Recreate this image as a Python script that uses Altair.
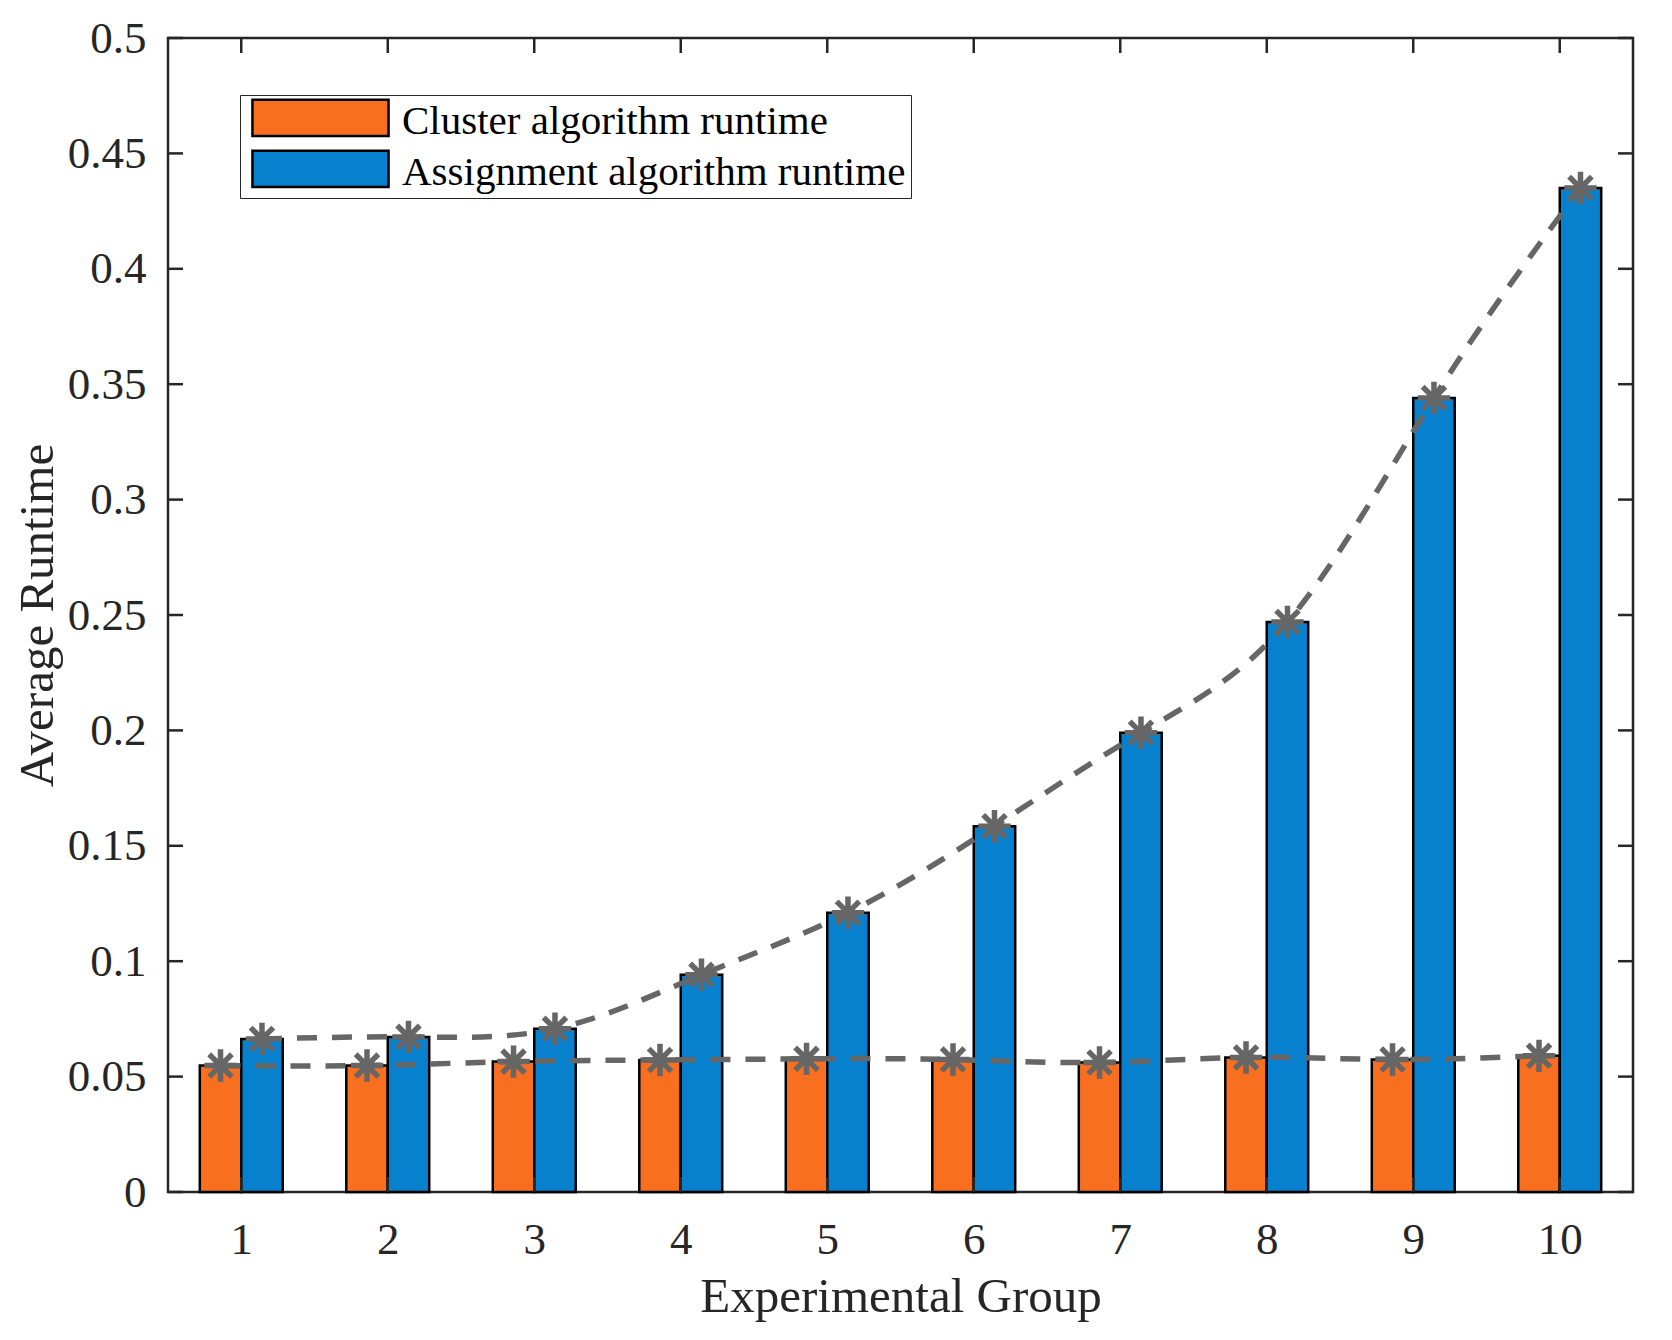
import altair as alt
import pandas as pd

groups = [1, 2, 3, 4, 5, 6, 7, 8, 9, 10]
cluster_runtime = [0.0548, 0.0548, 0.0565, 0.0572, 0.0577, 0.0574, 0.0561, 0.0583, 0.0574, 0.0590]
assign_runtime = [0.0663, 0.0672, 0.0707, 0.0941, 0.1210, 0.1585, 0.1990, 0.2470, 0.3440, 0.4350]
series_names = ["Cluster algorithm runtime", "Assignment algorithm runtime"]
series_colors = ["#F8701F", "#0780CE"]
y_ticks = [0, 0.05, 0.1, 0.15, 0.2, 0.25, 0.3, 0.35, 0.4, 0.45, 0.5]

df = pd.DataFrame({
    "group": groups * 2,
    "runtime": cluster_runtime + assign_runtime,
    "series": [series_names[0]] * 10 + [series_names[1]] * 10,
    "side": [0] * 10 + [1] * 10,
})
ytick_df = pd.DataFrame({"v": y_ticks})
xtick_df = pd.DataFrame({"g": groups})

W, H = 1465, 1154
FONT = "Liberation Serif"
INK = "#262626"
GRAY = "#666666"
BW = 0.283  # bar width in group units
TL = 15     # inward tick length
ASTERISK = "M0,-1L0,1M-1,0L1,0M-0.7,-0.7L0.7,0.7M-0.7,0.7L0.7,-0.7"
# legend swatch: 136 x 36 px drawn with symbolSize 41^2 (20.5 px per unit),
# nudged up a little so the label sits on its middle
SWATCH = "M-3.32,-1.08H3.32V0.68H-3.32Z"

xs = alt.Scale(domain=[0.5, 10.5], nice=False, zero=False, padding=0)
ys = alt.Scale(domain=[0, 0.5], nice=False, padding=0)

base = alt.Chart(df).transform_calculate(
    x0=f"datum.group + (datum.side - 1) * {BW}",
    x1=f"datum.group + datum.side * {BW}",
    xc=f"datum.group + (datum.side - 0.5) * {BW}",
)

bars = base.mark_bar(stroke="black", strokeWidth=2.5, opacity=1).encode(
    x=alt.X("x0:Q", scale=xs, axis=alt.Axis(
        values=groups, format="d", title="Experimental Group",
        labelPadding=25, titleY=119, titleBaseline="alphabetic")),
    x2="x1:Q",
    y=alt.Y("runtime:Q", scale=ys, stack=False, axis=alt.Axis(
        values=y_ticks, format="~g", title="Average Runtime",
        labelPadding=22, titleX=-116, titleY=H / 2, titleBaseline="alphabetic")),
    y2=alt.datum(0),
    color=alt.Color("series:N", sort=series_names,
                    scale=alt.Scale(domain=series_names, range=series_colors),
                    legend=alt.Legend(
                        title=None, orient="none", legendX=72, legendY=57,
                        symbolType=SWATCH, symbolSize=1681, symbolOffset=53.5,
                        symbolStrokeColor="black", symbolStrokeWidth=2.5,
                        symbolOpacity=1,
                        labelFont=FONT, labelFontSize=41, labelColor="black",
                        labelOffset=59.5, labelLimit=0, rowPadding=3, padding=5,
                        strokeColor=INK, fillColor="white")),
)

lines = base.mark_line(color=GRAY, strokeWidth=5.5, strokeDash=[20, 15],
                       interpolate="natural").encode(
    x=alt.X("xc:Q", scale=xs),
    y=alt.Y("runtime:Q", scale=ys),
    detail="series:N",
)

markers = base.mark_point(shape=ASTERISK, size=1050, filled=False, stroke=GRAY,
                          strokeWidth=5.5, opacity=1).encode(
    x=alt.X("xc:Q", scale=xs),
    y=alt.Y("runtime:Q", scale=ys),
)

tick_style = dict(color=INK, strokeWidth=2.5)
yt_left = alt.Chart(ytick_df).mark_rule(**tick_style).encode(
    y=alt.Y("v:Q", scale=ys), x=alt.value(0), x2=alt.value(TL))
yt_right = alt.Chart(ytick_df).mark_rule(**tick_style).encode(
    y=alt.Y("v:Q", scale=ys), x=alt.value(W - TL), x2=alt.value(W))
xt_bottom = alt.Chart(xtick_df).mark_rule(**tick_style).encode(
    x=alt.X("g:Q", scale=xs), y=alt.value(H), y2=alt.value(H - TL))
xt_top = alt.Chart(xtick_df).mark_rule(**tick_style).encode(
    x=alt.X("g:Q", scale=xs), y=alt.value(0), y2=alt.value(TL))

chart = alt.layer(bars, lines, markers, yt_left, yt_right, xt_bottom, xt_top).properties(
    width=W, height=H,
    autosize=alt.AutoSizeParams(type="none"),
    padding={"left": 160, "top": 30, "right": 30, "bottom": 130},
    background="white",
).configure_view(
    stroke=INK, strokeWidth=2.5
).configure_axis(
    domain=False, ticks=False, grid=False,
    labelFont=FONT, labelFontSize=45, labelColor=INK,
    titleFont=FONT, titleFontSize=49, titleFontWeight="normal", titleColor=INK,
)

chart.save("out.html", embed_options={"renderer": "svg", "actions": False})
